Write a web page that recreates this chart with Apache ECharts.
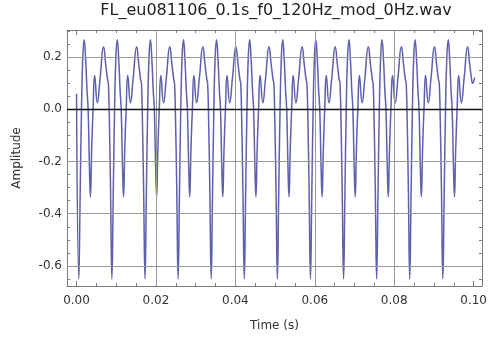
<!DOCTYPE html>
<html>
<head>
<meta charset="utf-8">
<script src="https://cdn.jsdelivr.net/npm/echarts@6/dist/echarts.min.js"></script>
<style>html,body{margin:0;padding:0;background:#fff}#chart{width:490px;height:337px}</style>
</head>
<body>
<div id="chart"></div>
<script>
// Time (s) of each sample, one row per pitch period
var times = [
  0.00000,
  0.00058, 0.00090, 0.00125, 0.00158, 0.00193, 0.00230, 0.00265, 0.00292, 0.00322, 0.00350, 0.00382, 0.00417, 0.00457, 0.00524, 0.00594, 0.00681, 0.00736, 0.00781, 0.00801, 0.00821, 0.00856,
  0.00891, 0.00923, 0.00958, 0.00991, 0.01026, 0.01063, 0.01098, 0.01125, 0.01155, 0.01183, 0.01215, 0.01250, 0.01290, 0.01357, 0.01427, 0.01514, 0.01569, 0.01614, 0.01634, 0.01654, 0.01689,
  0.01725, 0.01757, 0.01792, 0.01825, 0.01860, 0.01897, 0.01932, 0.01959, 0.01989, 0.02017, 0.02049, 0.02084, 0.02124, 0.02191, 0.02261, 0.02348, 0.02403, 0.02448, 0.02468, 0.02488, 0.02523,
  0.02558, 0.02590, 0.02625, 0.02658, 0.02693, 0.02730, 0.02765, 0.02792, 0.02822, 0.02850, 0.02882, 0.02917, 0.02957, 0.03024, 0.03094, 0.03181, 0.03236, 0.03281, 0.03301, 0.03321, 0.03356,
  0.03391, 0.03423, 0.03458, 0.03491, 0.03526, 0.03563, 0.03598, 0.03625, 0.03655, 0.03683, 0.03715, 0.03750, 0.03790, 0.03857, 0.03927, 0.04014, 0.04069, 0.04114, 0.04134, 0.04154, 0.04189,
  0.04225, 0.04257, 0.04292, 0.04325, 0.04360, 0.04397, 0.04432, 0.04459, 0.04489, 0.04517, 0.04549, 0.04584, 0.04624, 0.04691, 0.04761, 0.04848, 0.04903, 0.04948, 0.04968, 0.04988, 0.05023,
  0.05058, 0.05090, 0.05125, 0.05158, 0.05193, 0.05230, 0.05265, 0.05292, 0.05322, 0.05350, 0.05382, 0.05417, 0.05457, 0.05524, 0.05594, 0.05681, 0.05736, 0.05781, 0.05801, 0.05821, 0.05856,
  0.05891, 0.05923, 0.05958, 0.05991, 0.06026, 0.06063, 0.06098, 0.06125, 0.06155, 0.06183, 0.06215, 0.06250, 0.06290, 0.06357, 0.06427, 0.06514, 0.06569, 0.06614, 0.06634, 0.06654, 0.06689,
  0.06725, 0.06757, 0.06792, 0.06825, 0.06860, 0.06897, 0.06932, 0.06959, 0.06989, 0.07017, 0.07049, 0.07084, 0.07124, 0.07191, 0.07261, 0.07348, 0.07403, 0.07448, 0.07468, 0.07488, 0.07523,
  0.07558, 0.07590, 0.07625, 0.07658, 0.07693, 0.07730, 0.07765, 0.07792, 0.07822, 0.07850, 0.07882, 0.07917, 0.07957, 0.08024, 0.08094, 0.08181, 0.08236, 0.08281, 0.08301, 0.08321, 0.08356,
  0.08391, 0.08423, 0.08458, 0.08491, 0.08526, 0.08563, 0.08598, 0.08625, 0.08655, 0.08683, 0.08715, 0.08750, 0.08790, 0.08857, 0.08927, 0.09014, 0.09069, 0.09114, 0.09134, 0.09154, 0.09189,
  0.09225, 0.09257, 0.09292, 0.09325, 0.09360, 0.09397, 0.09432, 0.09459, 0.09489, 0.09517, 0.09549, 0.09584, 0.09624, 0.09691, 0.09761, 0.09848, 0.09903, 0.09948, 0.09968, 0.10030
];
// Amplitude of each sample
var amplitude = [
  0.06,
  -0.650, -0.34, 0.00, 0.20, 0.267, 0.19, 0.07, 0.00, -0.20, -0.335, -0.15, 0.00, 0.130, 0.025, 0.12, 0.240, 0.17, 0.115, 0.100, 0.00, -0.30,
  -0.650, -0.34, 0.00, 0.20, 0.267, 0.19, 0.07, 0.00, -0.20, -0.335, -0.15, 0.00, 0.130, 0.025, 0.12, 0.240, 0.17, 0.115, 0.100, 0.00, -0.30,
  -0.650, -0.34, 0.00, 0.20, 0.267, 0.19, 0.07, 0.00, -0.20, -0.335, -0.15, 0.00, 0.130, 0.025, 0.12, 0.240, 0.17, 0.115, 0.100, 0.00, -0.30,
  -0.650, -0.34, 0.00, 0.20, 0.267, 0.19, 0.07, 0.00, -0.20, -0.335, -0.15, 0.00, 0.130, 0.025, 0.12, 0.240, 0.17, 0.115, 0.100, 0.00, -0.30,
  -0.650, -0.34, 0.00, 0.20, 0.267, 0.19, 0.07, 0.00, -0.20, -0.335, -0.15, 0.00, 0.130, 0.025, 0.12, 0.240, 0.17, 0.115, 0.100, 0.00, -0.30,
  -0.650, -0.34, 0.00, 0.20, 0.267, 0.19, 0.07, 0.00, -0.20, -0.335, -0.15, 0.00, 0.130, 0.025, 0.12, 0.240, 0.17, 0.115, 0.100, 0.00, -0.30,
  -0.650, -0.34, 0.00, 0.20, 0.267, 0.19, 0.07, 0.00, -0.20, -0.335, -0.15, 0.00, 0.130, 0.025, 0.12, 0.240, 0.17, 0.115, 0.100, 0.00, -0.30,
  -0.650, -0.34, 0.00, 0.20, 0.267, 0.19, 0.07, 0.00, -0.20, -0.335, -0.15, 0.00, 0.130, 0.025, 0.12, 0.240, 0.17, 0.115, 0.100, 0.00, -0.30,
  -0.650, -0.34, 0.00, 0.20, 0.267, 0.19, 0.07, 0.00, -0.20, -0.335, -0.15, 0.00, 0.130, 0.025, 0.12, 0.240, 0.17, 0.115, 0.100, 0.00, -0.30,
  -0.650, -0.34, 0.00, 0.20, 0.267, 0.19, 0.07, 0.00, -0.20, -0.335, -0.15, 0.00, 0.130, 0.025, 0.12, 0.240, 0.17, 0.115, 0.100, 0.00, -0.30,
  -0.650, -0.34, 0.00, 0.20, 0.267, 0.19, 0.07, 0.00, -0.20, -0.335, -0.15, 0.00, 0.130, 0.025, 0.12, 0.240, 0.17, 0.115, 0.100, 0.00, -0.30,
  -0.650, -0.34, 0.00, 0.20, 0.267, 0.19, 0.07, 0.00, -0.20, -0.335, -0.15, 0.00, 0.130, 0.025, 0.12, 0.240, 0.17, 0.115, 0.100, 0.122
];
var xTickLabels = [0.00, 0.02, 0.04, 0.06, 0.08, 0.10];
var xMinorTicks = [0.005, 0.01, 0.015, 0.025, 0.03, 0.035, 0.045, 0.05, 0.055, 0.065, 0.07, 0.075, 0.085, 0.09, 0.095];
var yTickLabels = [-0.6, -0.4, -0.2, 0.0, 0.2];
var yMinorTicks = [-0.65, -0.55, -0.5, -0.45, -0.35, -0.3, -0.25, -0.15, -0.1, -0.05, 0.05, 0.1, 0.15, 0.25, 0.3];
var xGrid = [0.02, 0.04, 0.06, 0.08];
var yGrid = [-0.6, -0.4, -0.2, 0.2];

var FONT = 'DejaVu Sans';
var FRAME = '#7a7a7a';
var X_MIN = -0.0024, X_MAX = 0.1021, Y_MIN = -0.677, Y_MAX = 0.304;

var points = times.map(function (t, i) { return [t, amplitude[i]]; });

function xAx(pos, ticks, len, labels, lineShow, extra) {
  var a = {
    type: 'value', position: pos, min: X_MIN, max: X_MAX,
    axisLine: { show: lineShow, onZero: false, lineStyle: { color: FRAME, width: 1 } },
    axisTick: { show: true, inside: true, length: len, customValues: ticks, lineStyle: { color: FRAME } },
    axisLabel: labels ? { show: true, customValues: labels, formatter: function (v) { return v.toFixed(2); },
      fontFamily: FONT, fontSize: 12, color: '#333', margin: 9 } : { show: false },
    splitLine: { show: false }
  };
  return Object.assign(a, extra || {});
}
function yAx(pos, ticks, len, labels, lineShow, extra) {
  var a = {
    type: 'value', position: pos, min: Y_MIN, max: Y_MAX,
    axisLine: { show: lineShow, onZero: false, lineStyle: { color: FRAME, width: 1 } },
    axisTick: { show: true, inside: true, length: len, customValues: ticks, lineStyle: { color: FRAME } },
    axisLabel: labels ? { show: true, customValues: labels, formatter: function (v) { return v.toFixed(1); },
      fontFamily: FONT, fontSize: 12, color: '#333', margin: 5 } : { show: false },
    splitLine: { show: false }
  };
  return Object.assign(a, extra || {});
}

var gridMarks = xGrid.map(function (v) { return { xAxis: v, lineStyle: { color: '#9a9a9a', width: 1, type: 'solid' } }; })
  .concat(yGrid.map(function (v) { return { yAxis: v, lineStyle: { color: '#9a9a9a', width: 1, type: 'solid' } }; }))
  .concat([{ yAxis: 0, lineStyle: { color: '#111', width: 1.4, type: 'solid' } }]);

var chart = echarts.init(document.getElementById('chart'), null, { renderer: 'canvas' });
chart.setOption({
  animation: false,
  backgroundColor: '#fff',
  title: {
    text: 'FL_eu081106_0.1s_f0_120Hz_mod_0Hz.wav',
    left: 276, top: 3, textAlign: 'center', padding: 0,
    textStyle: { fontFamily: FONT, fontSize: 16, fontWeight: 'normal', color: '#222' }
  },
  grid: { left: 67, right: 4, top: 30, bottom: 49 },
  xAxis: [
    xAx('bottom', xTickLabels, 5, xTickLabels, true, {
      name: 'Time (s)', nameLocation: 'middle', nameGap: 34,
      nameTextStyle: { fontFamily: FONT, fontSize: 12, color: '#333' }
    }),
    xAx('bottom', xMinorTicks, 3, null, false),
    xAx('top', xTickLabels, 5, null, true),
    xAx('top', xMinorTicks, 3, null, false)
  ],
  yAxis: [
    yAx('left', yTickLabels, 5, yTickLabels, true, {
      name: 'Amplitude', nameLocation: 'middle', nameGap: 44,
      nameTextStyle: { fontFamily: FONT, fontSize: 12, color: '#333' }
    }),
    yAx('left', yMinorTicks, 3, null, false),
    yAx('right', yTickLabels, 5, null, true),
    yAx('right', yMinorTicks, 3, null, false)
  ],
  series: [
    {
      type: 'line', xAxisIndex: 0, yAxisIndex: 0, data: [], z: 1, silent: true,
      markLine: { silent: true, symbol: ['none', 'none'], label: { show: false }, animation: false, data: gridMarks }
    },
    {
      name: 'Amplitude', type: 'line', xAxisIndex: 0, yAxisIndex: 0, data: points, z: 3,
      showSymbol: false, smooth: 0.5, clip: true,
      lineStyle: { color: '#5f5fae', width: 1.5 }
    }
  ]
});
</script>
</body>
</html>
